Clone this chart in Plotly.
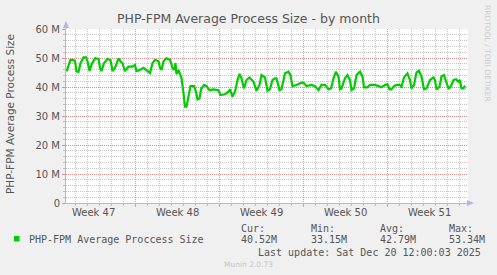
import pandas as pd
import plotly.graph_objects as go

# ---- data (hours since graph start, average process size in MB) ----
start_time = "2025-11-17 06:00"
span_hours = 804
hours = [1, 5, 9, 15, 18, 21, 25, 29, 35, 40, 43, 47, 51, 58, 65, 68, 71, 76, 83, 89,
         93, 98, 105, 109, 113, 118, 125, 133, 138, 141, 148, 155, 161, 168, 173, 178,
         185, 188, 191, 195, 201, 208, 213, 217, 219, 221, 225, 228, 231, 235, 238, 241,
         245, 249, 256, 260, 263, 267, 270, 276, 281, 287, 295, 305, 309, 318, 325, 328,
         333, 338, 343, 347, 351, 356, 361, 367,
         375, 381, 387, 391, 398, 403, 408, 413, 418, 421, 427, 431, 438, 445, 449, 453,
         461, 471, 476, 481, 491, 498, 505, 511, 518, 525, 530, 535, 540, 545, 548, 551,
         558, 563, 568, 571, 576, 581, 588, 593, 596, 603, 608, 618, 625, 631, 638, 643,
         647, 651, 656, 661, 667, 671, 676, 683, 688, 691, 696, 701, 706, 711, 716, 721,
         728, 735, 738, 741, 747, 751, 756, 761, 765, 769, 775, 780, 785, 788, 791, 795, 798]
size_mb = [45.4, 47.7, 49.4, 49.3, 48.9, 45.4, 45.2, 48.2, 50.2, 50.2, 48.9, 45.5, 47.7, 49.9,
           49.7, 46.6, 45.5, 48.2, 49.7, 49.2, 45.5, 46.6, 49.9, 48.9, 48.2, 45.5, 47.0, 47.0,
           47.6, 45.5, 45.9, 46.6, 45.9, 44.8, 48.2, 49.4, 48.9, 46.6, 45.9, 48.9, 49.9, 49.4,
           46.6, 45.9, 48.2, 44.4, 45.9, 44.8, 43.1, 37.8, 33.2, 33.2, 36.7, 40.3, 40.3, 38.4,
           35.7, 36.0, 39.2, 40.7, 40.3, 38.9, 39.2, 38.9, 37.2, 37.5, 38.4, 39.2, 36.7, 38.4,
           42.4, 44.5, 43.0, 39.5, 42.4, 43.3,
           41.8, 38.7, 40.7, 44.1, 43.3, 38.7, 39.2, 42.4, 43.0, 43.0, 38.9, 39.2, 44.7, 45.3,
           44.1, 40.3, 40.7, 41.5, 41.3, 40.3, 40.7, 40.3, 38.9, 40.7, 40.7, 39.2, 39.5, 43.0,
           45.3, 43.6, 39.2, 39.5, 43.0, 44.1, 42.4, 38.9, 39.5, 44.1, 45.3, 43.6, 39.9, 39.9,
           40.7, 40.7, 40.3, 39.9, 40.7, 41.0, 39.2, 39.2, 40.3, 40.7, 40.7, 40.1, 43.3, 44.7,
           42.4, 39.5, 40.7, 45.0, 45.6, 43.6, 39.2, 39.5, 42.4, 43.3, 42.4, 39.2, 40.1, 43.6,
           44.1, 41.8, 39.5, 39.9, 42.4, 42.7, 41.8, 42.4, 39.5, 39.5, 40.5]
week_starts = ["2025-11-16", "2025-11-23", "2025-11-30", "2025-12-07", "2025-12-14"]
week_labels = ["Week 47", "Week 48", "Week 49", "Week 50", "Week 51"]
y_ticks = [0, 10, 20, 30, 40, 50, 60]
y_ticktext = ["0", "10 M", "20 M", "30 M", "40 M", "50 M", "60 M"]
series_name = "PHP-FPM Average Proccess Size"
stat_names = ["Cur:", "Min:", "Avg:", "Max:"]
stat_values = ["40.52M", "33.15M", "42.79M", "53.34M"]

# ---- build ----
t0 = pd.Timestamp(start_time)
times = t0 + pd.to_timedelta(hours, unit="h")
t_end = t0 + pd.Timedelta(hours=span_hours)

W, H = 497, 275
L, R, T, B = 66, 29, 29, 72
PW, PH = W - L - R, H - T - B


def px(x):
    return (x - L) / PW


def py(y):
    return (H - B - y) / PH


GRID_MAJ = "rgba(225,120,120,0.75)"
GRID_MIN = "rgba(150,150,150,0.55)"
AXIS = "#b4b4e6"
TXT = "#555555"

fig = go.Figure()
fig.add_trace(go.Scatter(x=times, y=size_mb, mode="lines",
                         line=dict(color="#00cc00", width=2.2), showlegend=False,
                         hoverinfo="skip"))

fig.update_layout(
    width=W, height=H,
    margin=dict(l=L, r=R, t=T, b=B, pad=0),
    paper_bgcolor="#f0f0f0", plot_bgcolor="#ffffff",
    font=dict(family="DejaVu Sans", size=10, color=TXT),
    showlegend=False,
)
fig.update_xaxes(
    type="date", range=[t0, t_end], showticklabels=False,
    tick0="2025-11-23", dtick=7 * 86400000,
    showgrid=True, gridcolor=GRID_MAJ, griddash="1px,1px", gridwidth=1,
    ticks="outside", ticklen=3, tickcolor=GRID_MAJ,
    minor=dict(tick0="2025-11-23", dtick=86400000, showgrid=True, gridcolor=GRID_MIN,
               griddash="1px,1px", ticks="outside", ticklen=2, tickcolor=GRID_MIN),
    showline=True, linecolor=AXIS, linewidth=1, zeroline=False,
)
fig.update_yaxes(
    range=[0, 60], tickvals=y_ticks, ticktext=y_ticktext,
    showgrid=True, gridcolor=GRID_MAJ, griddash="1px,1px", gridwidth=1,
    ticks="outside", ticklen=3, tickcolor=GRID_MAJ,
    tickfont=dict(size=10, color=TXT),
    minor=dict(dtick=2, showgrid=True, gridcolor=GRID_MIN, griddash="1px,1px",
               ticks="outside", ticklen=2, tickcolor=GRID_MIN),
    showline=True, linecolor=AXIS, linewidth=1, zeroline=False,
)

ann = []
# week labels centred in each week
for ws, lab in zip(week_starts, week_labels):
    ann.append(dict(x=pd.Timestamp(ws) + pd.Timedelta(hours=84), xref="x", y=py(212),
                    yref="paper", text=lab, showarrow=False, xanchor="center",
                    yanchor="middle", font=dict(size=10, color=TXT)))
# title
ann.append(dict(x=px(248.5), y=py(19), xref="paper", yref="paper",
                text="PHP-FPM Average Process Size - by month", showarrow=False,
                xanchor="center", yanchor="middle", font=dict(size=12.5, color=TXT)))
# y-axis title
ann.append(dict(x=px(10), y=py(114), xref="paper", yref="paper", textangle=-90,
                text="PHP-FPM Average Process Size", showarrow=False,
                xanchor="center", yanchor="middle", font=dict(size=10.5, color=TXT)))
# rrdtool watermark
ann.append(dict(x=px(488), y=py(53), xref="paper", yref="paper", textangle=90,
                text="RRDTOOL / TOBI OETIKER", showarrow=False,
                xanchor="center", yanchor="middle", font=dict(size=7.5, color="#cccccc")))
# legend
mono = dict(family="DejaVu Sans Mono", size=10, color=TXT)
ann.append(dict(x=px(26.5), y=py(239), xref="paper", yref="paper", text=series_name,
                showarrow=False, xanchor="left", yanchor="middle", font=mono))
for xs, nm, val in zip([239.3, 309, 378, 447], stat_names, stat_values):
    ann.append(dict(x=px(xs), y=py(228), xref="paper", yref="paper", text=nm,
                    showarrow=False, xanchor="left", yanchor="middle", font=mono))
    ann.append(dict(x=px(xs), y=py(239), xref="paper", yref="paper", text=val,
                    showarrow=False, xanchor="left", yanchor="middle", font=mono))
ann.append(dict(x=px(482.5), y=py(252), xref="paper", yref="paper",
                text="Last update: Sat Dec 20 12:00:03 2025", showarrow=False,
                xanchor="right", yanchor="middle", font=mono))
ann.append(dict(x=px(248), y=py(264), xref="paper", yref="paper", text="Munin 2.0.73",
                showarrow=False, xanchor="center", yanchor="middle",
                font=dict(size=7.5, color="#c4c4c4")))
fig.update_layout(annotations=ann)

shapes = [
    # legend colour box
    dict(type="rect", xref="paper", yref="paper", x0=px(14), x1=px(19.5), y0=py(241.5),
         y1=py(236), fillcolor="#00cc00", line=dict(width=0)),
    # y axis arrow
    dict(type="path", xref="paper", yref="paper",
         path=f"M {px(63)} {py(28)} L {px(69)} {py(28)} L {px(66)} {py(21)} Z",
         fillcolor=AXIS, line=dict(width=0)),
    dict(type="line", xref="paper", yref="paper", x0=0, x1=0, y0=1, y1=py(27),
         line=dict(color=AXIS, width=1)),
    # x axis arrow
    dict(type="path", xref="paper", yref="paper",
         path=f"M {px(467)} {py(200)} L {px(467)} {py(206)} L {px(474)} {py(203)} Z",
         fillcolor=AXIS, line=dict(width=0)),
]
fig.update_layout(shapes=shapes)

fig.write_html("out.html")
